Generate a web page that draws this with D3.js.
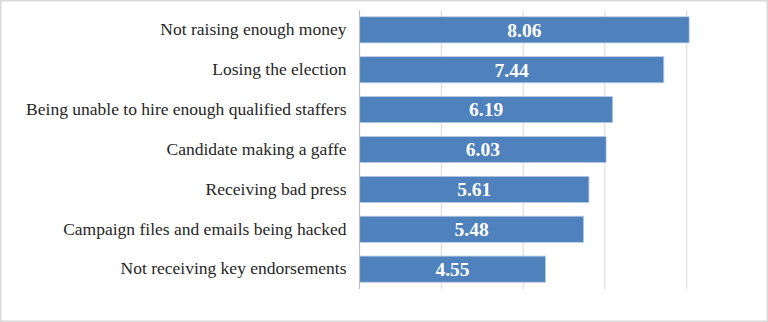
<!DOCTYPE html>
<html>
<head>
<meta charset="utf-8">
<script src="https://cdn.jsdelivr.net/npm/d3@7"></script>
<style>
  html, body { margin: 0; padding: 0; background: #fff; }
  svg { display: block; }
</style>
</head>
<body>
<div class="chartHolder"></div>
<script>
const categories = [
  'Not raising enough money',
  'Losing the election',
  'Being unable to hire enough qualified staffers',
  'Candidate making a gaffe',
  'Receiving bad press',
  'Campaign files and emails being hacked',
  'Not receiving key endorsements'
]
const values = [8.06, 7.44, 6.19, 6.03, 5.61, 5.48, 4.55]
const xTicks = [0, 2, 4, 6, 8]

const width = 768
const height = 322
const margin = { top: 10, right: 80, bottom: 33, left: 359.5 }

const svg = d3.select('.chartHolder').append('svg')
  .attr('width', width)
  .attr('height', height)

// outer frame
svg.append('rect')
  .attr('x', 0.75).attr('y', 0.75)
  .attr('width', width - 1.5).attr('height', height - 1.5)
  .attr('fill', '#fff')
  .attr('stroke', '#d9d9d9')
  .attr('stroke-width', 1.5)

const xScale = d3.scaleLinear()
  .domain([0, 8])
  .range([margin.left, 686.7])

const yScale = d3.scaleBand()
  .domain(categories)
  .range([margin.top, height - margin.bottom])
  .paddingInner(0.345)
  .paddingOuter(0.17)

// gridlines
svg.append('g')
  .selectAll('line')
  .data(xTicks.slice(1))
  .enter()
  .append('line')
  .attr('x1', d => xScale(d)).attr('x2', d => xScale(d))
  .attr('y1', margin.top).attr('y2', height - margin.bottom)
  .attr('stroke', '#d9d9d9')
  .attr('stroke-width', 1)

// bars
svg.append('g')
  .selectAll('rect')
  .data(values)
  .enter()
  .append('rect')
  .attr('x', xScale(0))
  .attr('y', (d, i) => yScale(categories[i]))
  .attr('width', d => xScale(d) - xScale(0))
  .attr('height', yScale.bandwidth())
  .attr('fill', '#4f81bd')
  .attr('stroke', '#b9cde5')
  .attr('stroke-width', 0.8)

// value labels
svg.append('g')
  .selectAll('text')
  .data(values)
  .enter()
  .append('text')
  .attr('x', d => (xScale(0) + xScale(d)) / 2)
  .attr('y', (d, i) => yScale(categories[i]) + yScale.bandwidth() / 2)
  .attr('dy', '0.35em')
  .attr('text-anchor', 'middle')
  .style('font-family', '"Liberation Serif", serif')
  .style('font-weight', 'bold')
  .style('font-size', '19.5px')
  .attr('fill', '#fff')
  .text(d => d.toFixed(2))

// y axis
const yAxis = d3.axisLeft(yScale).tickSize(0).tickPadding(13)
const yAxisGroup = svg.append('g')
  .attr('transform', `translate(${xScale(0)},0)`)
  .call(yAxis)
yAxisGroup.select('.domain').remove()
yAxisGroup.selectAll('text')
  .attr('dy', '0.3em')
  .style('font-family', '"Liberation Serif", serif')
  .style('font-size', '17.5px')
  .attr('fill', '#262626')

svg.append('line')
  .attr('x1', xScale(0)).attr('x2', xScale(0))
  .attr('y1', margin.top).attr('y2', height - margin.bottom)
  .attr('stroke', '#bfbfbf')
  .attr('stroke-width', 1.2)
</script>
</body>
</html>
